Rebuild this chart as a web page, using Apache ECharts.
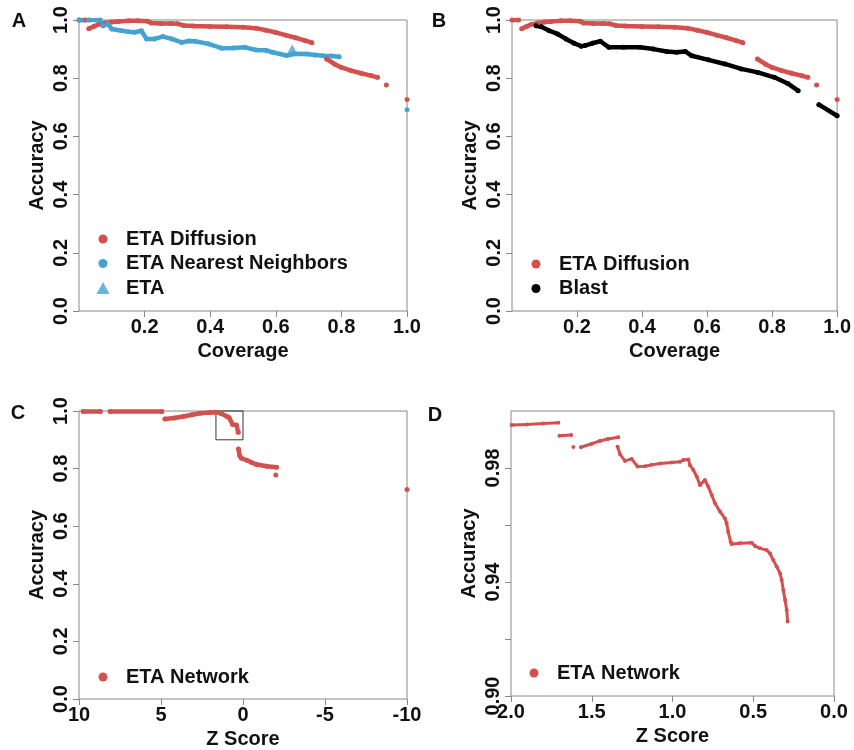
<!DOCTYPE html>
<html>
<head>
<meta charset="utf-8">
<script src="https://cdn.jsdelivr.net/npm/echarts@6/dist/echarts.min.js"></script>
<style>
  html, body { margin: 0; padding: 0; background: #fff; }
  #chart { width: 854px; height: 750px; }
</style>
</head>
<body>
<div id="chart"></div>
<script>
// values; null marks a gap in the dotted curve
var diffusion = [
  [0.0, 1.0], [0.02, 1.0], null,
  [0.03, 0.970], [0.045, 0.978], [0.06, 0.985], [0.08, 0.990], [0.10, 0.993], [0.12, 0.995],
  [0.15, 0.997], [0.18, 0.997], [0.21, 0.996], [0.22, 0.990], [0.25, 0.988], [0.28, 0.988],
  [0.30, 0.987], [0.32, 0.981], [0.35, 0.979], [0.40, 0.978], [0.45, 0.977], [0.50, 0.975],
  [0.54, 0.972], [0.57, 0.965], [0.60, 0.957], [0.63, 0.948], [0.66, 0.939], [0.69, 0.929],
  [0.71, 0.922], null,
  [0.755, 0.866], [0.78, 0.848], [0.80, 0.837], [0.83, 0.826], [0.86, 0.817], [0.89, 0.809],
  [0.91, 0.803], null,
  [0.937, 0.777], null,
  [1.0, 0.727]
]
var nearest = [
  [0.0, 1.0], [0.03, 1.0], [0.065, 1.0], [0.073, 0.980], [0.088, 0.987], [0.10, 0.969],
  [0.13, 0.963], [0.15, 0.960], [0.17, 0.958], [0.19, 0.963], [0.206, 0.935], [0.23, 0.935],
  [0.256, 0.943], [0.283, 0.935], [0.313, 0.923], [0.335, 0.928], [0.354, 0.927], [0.394, 0.918],
  [0.435, 0.903], [0.47, 0.904], [0.506, 0.906], [0.54, 0.897], [0.57, 0.896], [0.59, 0.889],
  [0.633, 0.878], [0.66, 0.884], [0.694, 0.883], [0.72, 0.880], [0.744, 0.877], [0.77, 0.876],
  [0.793, 0.874], null,
  [1.0, 0.692]
]
var etaPoint = [[0.65, 0.897]]
var blast = [
  [0.074, 0.980], [0.09, 0.977], [0.115, 0.963], [0.14, 0.952], [0.166, 0.935], [0.191, 0.920],
  [0.213, 0.910], null,
  [0.224, 0.912], [0.247, 0.920], [0.272, 0.927], [0.298, 0.906], [0.343, 0.906], [0.394, 0.906],
  [0.435, 0.900], [0.476, 0.892], [0.506, 0.889], [0.533, 0.892], [0.553, 0.877], [0.604, 0.863],
  [0.655, 0.849], [0.705, 0.832], [0.756, 0.820], [0.807, 0.803], [0.848, 0.782], [0.88, 0.757], null,
  [0.944, 0.709], [1.0, 0.671]
]
var network = [
  [9.75, 0.998], [8.7, 0.998], null,
  [8.1, 0.998], [4.95, 0.998], null,
  [4.76, 0.972], [4.2, 0.976], [3.64, 0.981], [3.1, 0.987], [2.62, 0.992], [2.0, 0.995],
  [1.7, 0.996], [1.33, 0.991], [1.0, 0.982], [0.85, 0.977], [0.63, 0.953], [0.4, 0.951],
  [0.29, 0.926], null,
  [0.28, 0.868], [0.2, 0.845], [0.1, 0.836], [-0.23, 0.829], [-0.5, 0.822], [-0.84, 0.814],
  [-1.45, 0.808], [-2.05, 0.805], null,
  [-2.0, 0.778], null,
  [-10, 0.727]
]
var networkZoom = [
  [1.996, 0.9951], [1.9, 0.9953], [1.8, 0.9956], [1.707, 0.9959], null,
  [1.70, 0.9913], [1.628, 0.9916], null,
  [1.614, 0.9874], null,
  [1.567, 0.9873], [1.5, 0.9885], [1.45, 0.9895], [1.4, 0.9902], [1.336, 0.9908], null,
  [1.34, 0.9875], [1.325, 0.9848], [1.294, 0.9825], [1.253, 0.9832], [1.216, 0.9805], [1.17, 0.9806],
  [1.13, 0.9811], [1.077, 0.9816], [1.005, 0.9819], [0.953, 0.9822], [0.933, 0.9828], [0.902, 0.9830],
  [0.892, 0.9810], [0.871, 0.9793], [0.85, 0.9770], [0.83, 0.9740], [0.80, 0.9758], [0.778, 0.9734],
  [0.757, 0.9705], [0.737, 0.9676], [0.706, 0.9647], [0.675, 0.9623], [0.665, 0.9606], [0.655, 0.9576],
  [0.64, 0.9541], [0.634, 0.9533], [0.582, 0.9536], [0.51, 0.9538], [0.489, 0.9526], [0.458, 0.9518],
  [0.417, 0.9512], [0.396, 0.9500], [0.376, 0.9477], [0.355, 0.9454], [0.334, 0.9430], [0.324, 0.9407],
  [0.314, 0.9372], [0.303, 0.9337], [0.293, 0.9302], [0.287, 0.9261]
]
var zoomBox = [[1.65, 0.90], [0, 1.0]]
var coverageTicks = [0.2, 0.4, 0.6, 0.8, 1.0]
var accuracyTicks = [0, 0.2, 0.4, 0.6, 0.8, 1.0]
var zTicks = [10, 5, 0, -5, -10]
var zZoomTicks = [2.0, 1.5, 1.0, 0.5, 0.0]
var accZoomTicks = [0.90, 0.92, 0.94, 0.96, 0.98]
var accZoomLabels = [0.90, 0.94, 0.98]

var RED = '#d4504f'
var BLUE = '#45a3d4'
var FONT = "'Liberation Sans', Arial, sans-serif"
var GRAY = '#888'
var LABEL = { fontFamily: FONT, fontWeight: 'bold', fontSize: 20, color: '#111' }

function gaps (arr) {
  return arr.map(function (p) { return p === null ? ['-', '-'] : p })
}

function ticks (values) {
  return { length: 6, lineStyle: { color: GRAY }, customValues: values }
}

function xAxis (idx, name, min, max, tickValues, fmt, inverse) {
  return {
    gridIndex: idx,
    type: 'value',
    name: name,
    min: min,
    max: max,
    inverse: !!inverse,
    nameLocation: 'middle',
    nameGap: 30,
    nameTextStyle: LABEL,
    axisLine: { show: false, onZero: false },
    axisTick: ticks(tickValues),
    axisLabel: Object.assign({ margin: 6, customValues: tickValues, formatter: fmt }, LABEL),
    splitLine: { show: false }
  }
}

function yAxis (idx, min, max, tickValues, labelValues, fmt) {
  return {
    gridIndex: idx,
    type: 'value',
    name: 'Accuracy',
    min: min,
    max: max,
    nameLocation: 'middle',
    nameRotate: 90,
    nameGap: 32,
    nameTextStyle: LABEL,
    axisLine: { show: false, onZero: false },
    axisTick: ticks(tickValues),
    axisLabel: Object.assign({ rotate: 90, margin: 8, customValues: labelValues, formatter: fmt }, LABEL),
    splitLine: { show: false }
  }
}

function dots (name, idx, data, color, width, size) {
  return {
    name: name,
    type: 'line',
    xAxisIndex: idx,
    yAxisIndex: idx,
    data: gaps(data),
    symbol: 'circle',
    symbolSize: size,
    showSymbol: true,
    connectNulls: false,
    lineStyle: { color: color, width: width, cap: 'round', join: 'round' },
    itemStyle: { color: color },
    emphasis: { disabled: true }
  }
}

function legend (names, left, top, icon, w, h, pad) {
  return {
    data: names.map(function (n) { return { name: n, icon: icon } }),
    orient: 'vertical',
    left: left,
    top: top,
    itemWidth: w,
    itemHeight: h,
    itemGap: 4.5,
    selectedMode: false,
    formatter: function (n) { return '{s|}' + n },
    textStyle: Object.assign({ lineHeight: 20, rich: { s: { width: pad } } }, LABEL)
  }
}

function letter (t, x, y) {
  return {
    type: 'text', x: x, y: y,
    style: { text: t, fontFamily: FONT, fontWeight: 'bold', fontSize: 20, fill: '#111', align: 'center', verticalAlign: 'middle' }
  }
}

var fmt1 = function (v) { return v.toFixed(1) }
var fmt2 = function (v) { return v.toFixed(2) }
var fmt0 = function (v) { return String(v) }

var chart = echarts.init(document.getElementById('chart'))
var netSeries = dots('ETA Network', 2, network, RED, 4.5, 5)
netSeries.markArea = {
  silent: true,
  itemStyle: { color: 'rgba(0,0,0,0)', borderColor: '#333', borderWidth: 1 },
  data: [[{ coord: zoomBox[0] }, { coord: zoomBox[1] }]]
}

chart.setOption({
  backgroundColor: '#fff',
  animation: false,
  grid: [
    { left: 79, top: 20, width: 328, height: 291, show: true, borderColor: GRAY, borderWidth: 1 },
    { left: 512, top: 20, width: 328, height: 291, show: true, borderColor: GRAY, borderWidth: 1 },
    { left: 79, top: 411, width: 328, height: 290, show: true, borderColor: GRAY, borderWidth: 1 },
    { left: 511, top: 411, width: 323, height: 285, show: true, borderColor: GRAY, borderWidth: 1 }
  ],
  xAxis: [
    xAxis(0, 'Coverage', 0, 1, coverageTicks, fmt1),
    xAxis(1, 'Coverage', 0, 1, coverageTicks, fmt1),
    xAxis(2, 'Z Score', -10, 10, zTicks, fmt0, true),
    xAxis(3, 'Z Score', 0, 2, zZoomTicks, fmt1, true)
  ],
  yAxis: [
    yAxis(0, 0, 1, accuracyTicks, accuracyTicks, fmt1),
    yAxis(1, 0, 1, accuracyTicks, accuracyTicks, fmt1),
    yAxis(2, 0, 1, accuracyTicks, accuracyTicks, fmt1),
    yAxis(3, 0.9, 1.0, accZoomTicks, accZoomLabels, fmt2)
  ],
  legend: [
    legend(['ETA Diffusion', 'ETA Nearest Neighbors'], 93.5, 224, 'circle', 9, 9, 13.5),
    legend(['ETA'], 91.5, 273, 'triangle', 13, 12, 11.5),
    legend(['ETA Diffusion', 'Blast'], 526.5, 249, 'circle', 9, 9, 13.5),
    legend(['ETA Network'], 93.5, 662, 'circle', 9, 9, 13.5),
    legend(['ETA Network'], 524.5, 658, 'circle', 9, 9, 13.5)
  ],
  graphic: [
    letter('A', 19, 21),
    letter('B', 439, 21),
    letter('C', 18, 413),
    letter('D', 435, 415)
  ],
  series: [
    dots('ETA Diffusion', 0, diffusion, RED, 4.5, 5),
    dots('ETA Nearest Neighbors', 0, nearest, BLUE, 4.5, 5),
    {
      name: 'ETA', type: 'scatter', xAxisIndex: 0, yAxisIndex: 0,
      data: etaPoint, symbol: 'triangle', symbolSize: [12, 11],
      itemStyle: { color: BLUE }, emphasis: { disabled: true }
    },
    dots('ETA Diffusion', 1, diffusion, RED, 4.5, 5),
    dots('Blast', 1, blast, '#000', 4.5, 5),
    netSeries,
    dots('ETA Network', 3, networkZoom, RED, 3, 4)
  ]
})
</script>
</body>
</html>
